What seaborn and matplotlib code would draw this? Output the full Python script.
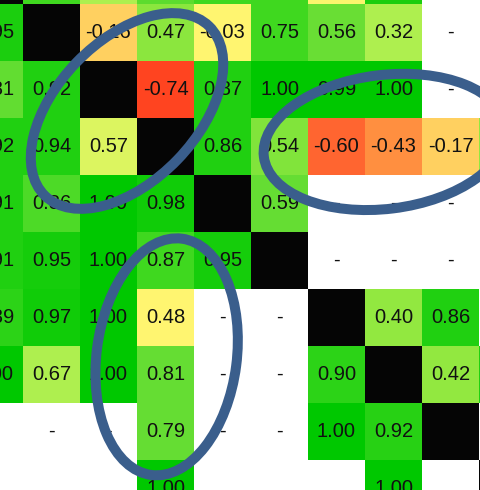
import numpy as np
import matplotlib
matplotlib.use("Agg")
import matplotlib.pyplot as plt
from matplotlib.colors import LinearSegmentedColormap, ListedColormap
from matplotlib.patches import Ellipse
import seaborn as sns

sns.set_style("white")
plt.rcParams["font.family"] = ["Liberation Sans", "DejaVu Sans"]

# Printed coefficient in each cell ("" on the diagonal or where nothing is
# printed, "-" where the coefficient was not computed)
row0 = ["", "", "", "", "", "", "", "", "", ""]
row1 = ["0.95", "", "-0.16", "0.47", "-0.03", "0.75", "0.56", "0.32", "-", ""]
row2 = ["0.81", "0.92", "", "-0.74", "0.87", "1.00", "0.99", "1.00", "-", ""]
row3 = ["0.92", "0.94", "0.57", "", "0.86", "0.54", "-0.60", "-0.43", "-0.17", ""]
row4 = ["0.91", "0.86", "1.00", "0.98", "", "0.59", "-", "-", "-", ""]
row5 = ["0.91", "0.95", "1.00", "0.87", "0.95", "", "-", "-", "-", ""]
row6 = ["0.89", "0.97", "1.00", "0.48", "-", "-", "", "0.40", "0.86", ""]
row7 = ["1.00", "0.67", "1.00", "0.81", "-", "-", "0.90", "", "0.42", ""]
row8 = ["-", "-", "-", "0.79", "-", "-", "1.00", "0.92", "", ""]
row9 = ["", "", "", "1.00", "", "", "", "1.00", "", ""]

# Colour score of each cell on the red-yellow-green scale (-1 .. 1)
nan = np.nan
shade0 = [nan, 0.80, 0.50, 0.72, 0.80, 0.80, 0.05, 0.92, nan, nan]
shade1 = [0.92, nan, -0.17, 0.61, 0.00, 0.80, 0.69, 0.50, nan, nan]
shade2 = [0.71, 0.90, nan, -0.74, 0.90, 1.00, 1.00, 1.00, nan, nan]
shade3 = [0.90, 0.90, 0.30, nan, 0.90, 0.64, -0.60, -0.43, -0.17, 0.60]
shade4 = [0.90, 0.76, 1.00, 0.95, nan, 0.70, nan, nan, nan, nan]
shade5 = [0.90, 0.93, 1.00, 0.80, 0.93, nan, nan, nan, nan, nan]
shade6 = [0.86, 0.95, 1.00, 0.00, nan, nan, nan, 0.60, 0.90, nan]
shade7 = [1.00, 0.50, 1.00, 0.70, nan, nan, 0.86, nan, 0.60, 0.90]
shade8 = [nan, nan, nan, 0.70, nan, nan, 1.00, 0.88, nan, nan]
shade9 = [nan, nan, nan, 1.00, nan, nan, nan, 1.00, nan, nan]

labels = np.array([row0, row1, row2, row3, row4, row5, row6, row7, row8, row9], dtype=object)
shade = np.array([shade0, shade1, shade2, shade3, shade4, shade5, shade6,
                  shade7, shade8, shade9], dtype=float)

n = labels.shape[0]
diag = np.eye(n, dtype=bool)
blank = np.isnan(shade) & ~diag
ones = np.ones((n, n))

stops = [(-1.00, "#ff2a10"), (-0.74, "#ff4420"), (-0.60, "#ff6530"),
         (-0.43, "#ff9040"), (-0.17, "#ffd060"), (0.00, "#fff570"),
         (0.30, "#dcf560"), (0.50, "#b0ef50"), (0.60, "#92e840"),
         (0.70, "#66dd33"), (0.80, "#40d820"), (0.90, "#22d012"),
         (1.00, "#00c800")]
cmap = LinearSegmentedColormap.from_list(
    "ryg", [((v + 1) / 2, c) for v, c in stops])

fig = plt.figure(figsize=(4.81, 4.90), dpi=100)
W, H = 481, 490
cell = 57
x0, y0 = -34, -53
ax = fig.add_axes([x0 / W, 1 - (y0 + n * cell) / H, n * cell / W, n * cell / H])
ax.set_facecolor("white")

text_kw = dict(fontsize=14.5, color="#111111")

# coloured coefficient cells
sns.heatmap(np.where(np.isnan(shade), 0, shade), mask=np.isnan(shade), cmap=cmap,
            vmin=-1, vmax=1, annot=labels, fmt="", annot_kws=text_kw,
            cbar=False, xticklabels=False, yticklabels=False,
            linewidths=0, ax=ax)
# empty "-" cells
sns.heatmap(ones, mask=~blank, cmap=ListedColormap(["white"]), annot=labels,
            fmt="", annot_kws=text_kw, cbar=False, xticklabels=False,
            yticklabels=False, linewidths=0, ax=ax)
# diagonal
sns.heatmap(ones, mask=~diag, cmap=ListedColormap(["#050505"]), cbar=False,
            xticklabels=False, yticklabels=False, linewidths=0, ax=ax)

# highlight rings (cell units)
ring = dict(fill=False, edgecolor="#3a5e8c", linewidth=7.2, zorder=10)
ax.add_patch(Ellipse((2.825, 2.877), 4.14, 2.46, angle=-46, **ring))
ax.add_patch(Ellipse((7.35, 3.42), 4.28, 2.35, angle=-7, **ring))
ax.add_patch(Ellipse((3.52, 7.19), 4.18, 2.46, angle=-82.6, **ring))

ax.set_xlim(0, n)
ax.set_ylim(n, 0)
for s in ax.spines.values():
    s.set_visible(False)

fig.savefig("out.png", dpi=100)
